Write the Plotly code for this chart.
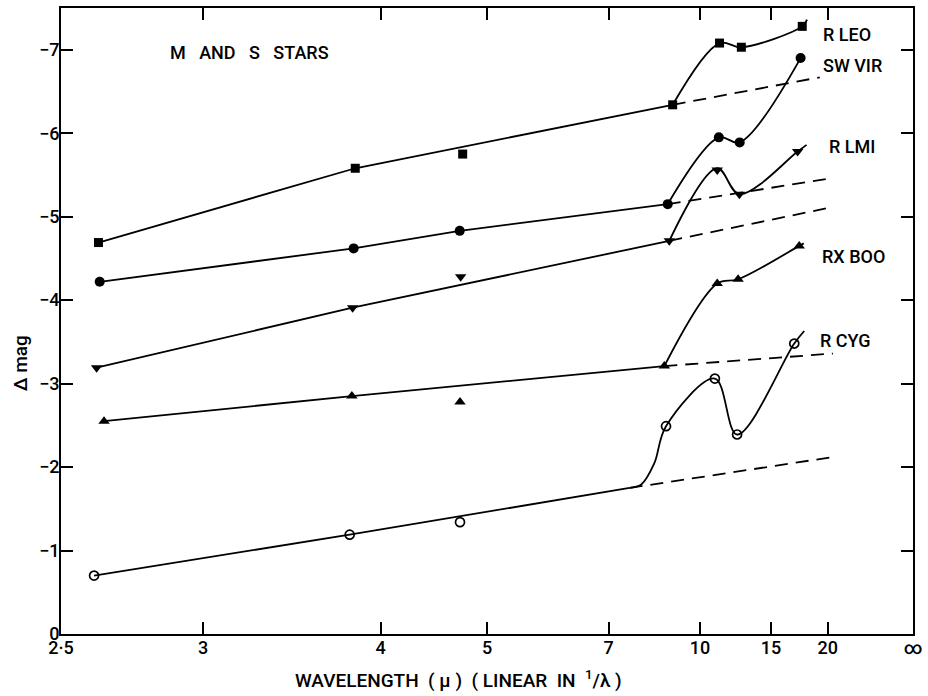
import plotly.graph_objects as go

# ---------------- data (wavelength in micron, delta mag) ----------------
# R LEO
leo_wl = [2.615, 3.819, 4.730, 8.863, 11.01, 12.41, 19.23]
leo_mag = [-4.69, -5.58, -5.75, -6.34, -7.08, -7.03, -7.28]
leo_fit_wl = [2.615, 3.819, 8.863]
leo_fit_mag = [-4.69, -5.58, -6.34]
leo_dash_wl = [8.863, 22.85]
leo_dash_mag = [-6.34, -6.67]
leo_curve_wl = [8.863, 11.01, 12.41, 19.23, 20.10]
leo_curve_mag = [-6.34, -7.08, -7.03, -7.28, -7.36]

# SW VIR
vir_wl = [2.619, 3.808, 4.699, 8.684, 10.97, 12.29, 18.95]
vir_mag = [-4.22, -4.62, -4.83, -5.15, -5.95, -5.89, -6.90]
vir_fit_wl = [2.619, 3.808, 4.699, 8.684]
vir_fit_mag = [-4.22, -4.62, -4.83, -5.15]
vir_dash_wl = [8.684, 26.1]
vir_dash_mag = [-5.15, -5.46]
vir_curve_wl = [8.684, 10.97, 12.29, 18.95]
vir_curve_mag = [-5.15, -5.95, -5.89, -6.90]

# R LMI
lmi_wl = [2.609, 3.801, 4.709, 8.740, 10.88, 12.27, 18.46]
lmi_mag = [-3.19, -3.91, -4.28, -4.71, -5.56, -5.27, -5.78]
lmi_fit_wl = [2.609, 3.801, 8.740]
lmi_fit_mag = [-3.19, -3.91, -4.71]
lmi_dash_wl = [8.740, 24.6]
lmi_dash_mag = [-4.71, -5.10]
lmi_curve_wl = [8.740, 10.88, 12.27, 18.46, 20.01]
lmi_curve_mag = [-4.71, -5.58, -5.27, -5.78, -5.86]

# RX BOO
boo_wl = [2.633, 3.796, 4.702, 8.566, 10.88, 12.18, 18.72]
boo_mag = [-2.55, -2.85, -2.78, -3.21, -4.20, -4.25, -4.65]
boo_fit_wl = [2.633, 3.796, 8.566]
boo_fit_mag = [-2.55, -2.85, -3.21]
boo_dash_wl = [8.566, 26.6]
boo_dash_mag = [-3.21, -3.36]
boo_curve_wl = [8.566, 10.88, 12.18, 18.72, 19.5]
boo_curve_mag = [-3.21, -4.20, -4.25, -4.65, -4.68]

# R CYG
cyg_wl = [2.601, 3.781, 4.702, 8.624, 10.75, 12.11, 17.94]
cyg_mag = [-0.70, -1.19, -1.34, -2.49, -3.06, -2.39, -3.48]
cyg_fit_wl = [2.601, 3.781, 7.516]
cyg_fit_mag = [-0.70, -1.19, -1.75]
cyg_dash_wl = [7.516, 26.6]
cyg_dash_mag = [-1.75, -2.12]
cyg_curve_wl = [7.516, 7.838, 8.228, 8.624, 10.75, 12.11, 17.94, 19.58]
cyg_curve_mag = [-1.75, -1.79, -2.04, -2.49, -3.06, -2.39, -3.48, -3.63]

# axis ticks (wavelength labels, placed as drawn on the original scale)
tick_labels = ["2·5", "3", "4", "5", "7", "10", "15", "20", "∞"]
tick_wl = [2.5, 3, 4, 5, 7, 10, 15, 25.0, None]
y_ticks = [0, -1, -2, -3, -4, -5, -6, -7]


def inv(wl):
    return [1.0 / w for w in wl]


FONT = "Roboto"
INK = "black"
LW = 1.8

stars = [
    ("R LEO", leo_wl, leo_mag, leo_fit_wl, leo_fit_mag, leo_dash_wl, leo_dash_mag,
     leo_curve_wl, leo_curve_mag, dict(symbol="square", size=9, color=INK)),
    ("SW VIR", vir_wl, vir_mag, vir_fit_wl, vir_fit_mag, vir_dash_wl, vir_dash_mag,
     vir_curve_wl, vir_curve_mag, dict(symbol="circle", size=10, color=INK)),
    ("R LMI", lmi_wl, lmi_mag, lmi_fit_wl, lmi_fit_mag, lmi_dash_wl, lmi_dash_mag,
     lmi_curve_wl, lmi_curve_mag, dict(symbol="triangle-down", size=10, color=INK)),
    ("RX BOO", boo_wl, boo_mag, boo_fit_wl, boo_fit_mag, boo_dash_wl, boo_dash_mag,
     boo_curve_wl, boo_curve_mag, dict(symbol="triangle-up", size=10, color=INK)),
    ("R CYG", cyg_wl, cyg_mag, cyg_fit_wl, cyg_fit_mag, cyg_dash_wl, cyg_dash_mag,
     cyg_curve_wl, cyg_curve_mag,
     dict(symbol="circle-open", size=9, color=INK, line=dict(width=1.7, color=INK))),
]

fig = go.Figure()
for name, wl, mag, fwl, fmag, dwl, dmag, cwl, cmag, mk in stars:
    fig.add_trace(go.Scatter(x=inv(fwl), y=fmag, mode="lines",
                             line=dict(color=INK, width=LW), showlegend=False, hoverinfo="skip"))
    fig.add_trace(go.Scatter(x=inv(dwl), y=dmag, mode="lines",
                             line=dict(color=INK, width=LW, dash="13px,8px"),
                             showlegend=False, hoverinfo="skip"))
    fig.add_trace(go.Scatter(x=inv(cwl), y=cmag, mode="lines",
                             line=dict(color=INK, width=LW, shape="spline", smoothing=1.0),
                             showlegend=False, hoverinfo="skip"))
    fig.add_trace(go.Scatter(x=inv(wl), y=mag, mode="markers", marker=mk,
                             name=name, showlegend=False))

# layout geometry (pixels)
L, R, T, B = 61, 9, 6, 62
W, H = 928, 696
PW, PH = W - L - R, H - T - B


def px(xp, yp):
    return (xp - L) / PW, (H - B - yp) / PH


TXT = dict(family=FONT, size=18, color=INK, weight=500)
TITLE = dict(family=FONT, size=19, color=INK, weight=500)

labels = [("R LEO", 826, 33), ("SW VIR", 826, 64), ("R LMI", 832, 145),
          ("RX BOO", 825, 255), ("R CYG", 823, 340)]
annotations = []
for text, xp, yp in labels:
    ax, ay = px(xp, yp)
    annotations.append(dict(text=text, x=ax, y=ay, xref="paper", yref="paper",
                            xanchor="left", yanchor="middle", showarrow=False, font=TXT))

ax, ay = px(169, 51)
annotations.append(dict(text="M\u00a0\u00a0\u00a0AND\u00a0\u00a0\u00a0S\u00a0\u00a0\u00a0STARS",
                        x=ax, y=ay, xref="paper", yref="paper", xanchor="left",
                        yanchor="middle", showarrow=False, font=TXT))
ax, ay = px(461, 680)
annotations.append(dict(text="WAVELENGTH\u00a0\u00a0(\u00a0μ\u00a0)\u00a0\u00a0(\u00a0LINEAR\u00a0\u00a0IN\u00a0\u00a0<sup>1</sup>/λ\u00a0)",
                        x=ax, y=ay, xref="paper", yref="paper", xanchor="center",
                        yanchor="middle", showarrow=False, font=TITLE))
ax, ay = px(21, 362)
annotations.append(dict(text="Δ mag", x=ax, y=ay, xref="paper", yref="paper",
                        xanchor="center", yanchor="middle", textangle=-90, showarrow=False,
                        font=TITLE))

tick_vals = [0.0 if w is None else 1.0 / w for w in tick_wl]

axis_common = dict(showgrid=False, zeroline=False, showline=True, linecolor=INK,
                   linewidth=1.7, mirror="ticks", ticks="inside", ticklen=12,
                   tickwidth=1.7, tickcolor=INK, tickfont=TXT, ticklabeloverflow="allow")

fig.update_layout(
    width=W, height=H,
    margin=dict(l=L, r=R, t=T, b=B),
    paper_bgcolor="white", plot_bgcolor="white",
    annotations=annotations,
    xaxis=dict(range=[0.4, 0.0], tickmode="array", tickvals=tick_vals,
               ticktext=tick_labels, ticklabelstandoff=-3, **axis_common),
    yaxis=dict(range=[0, -7.5], tickmode="array", tickvals=y_ticks,
               ticktext=["0" if v == 0 else "\u2212" + str(-v) for v in y_ticks],
               ticklabelstandoff=-4, **axis_common),
)

fig.write_html("out.html", config={"displayModeBar": False},
               post_script="document.body.style.margin='0px';")
